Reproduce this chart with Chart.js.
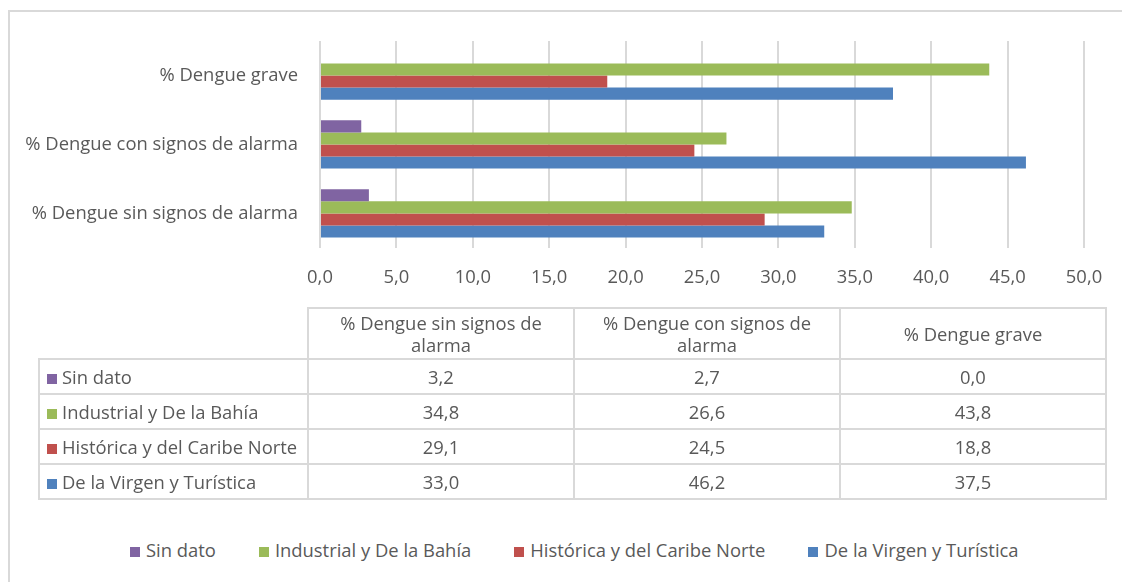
<!DOCTYPE html>
<html lang="es">
<head>
<meta charset="utf-8">
<script src="https://cdn.jsdelivr.net/npm/chart.js@4.4.1/dist/chart.umd.min.js"></script>
<style>
  html, body { margin: 0; padding: 0; background: #fff; }
  body { width: 1122px; height: 582px; position: relative; overflow: hidden;
         font-family: "Open Sans", sans-serif; color: #595959; }
  #frame { position: absolute; left: 8px; top: 10px; width: 1300px; height: 700px;
           border-left: 2px solid #d9d9d9; border-top: 2px solid #d9d9d9; }
  #wrap { position: absolute; left: 0; top: 0; width: 1122px; height: 308px; }
  #tabla { position: absolute; left: 38px; top: 307px; border-collapse: collapse;
           font-size: 18.4px; color: #595959; }
  #tabla td { border: 2px solid #d9d9d9; text-align: center; height: 33px; padding: 0; }
  #tabla tr.cab td { height: 49px; line-height: 22px; }
  #tabla tr.cab td.vacia { border: none; }
  #tabla td.serie { text-align: left; padding-left: 7px; width: 260px; white-space: nowrap; }
  #tabla td.num { width: 264px; }
  .cuadro { display: inline-block; width: 10px; height: 10px; margin-right: 5px; }
  #leyenda { position: absolute; left: 130px; top: 537px; display: flex; gap: 43px;
             font-size: 18.4px; line-height: 26px; white-space: nowrap; }
  #leyenda .cuadro { margin-right: 6px; }
</style>
</head>
<body>
<div id="frame"></div>
<div id="wrap"><canvas id="grafico"></canvas></div>
<table id="tabla"></table>
<div id="leyenda"></div>
<script>
// categorias (orden de la tabla)
const categorias = ['% Dengue sin signos de alarma', '% Dengue con signos de alarma', '% Dengue grave'];

// series
const sinDato    = [3.2, 2.7, 0.0];
const industrial = [34.8, 26.6, 43.8];
const historica  = [29.1, 24.5, 18.8];
const virgen     = [33.0, 46.2, 37.5];

const nombres = ['Sin dato', 'Industrial y De la Bahía', 'Histórica y del Caribe Norte', 'De la Virgen y Turística'];
const valores = [sinDato, industrial, historica, virgen];
const colores = ['#8064A2', '#9BBB59', '#C0504D', '#4F81BD'];

// eje x
const ejeMin = 0, ejeMax = 50, ejePaso = 5;

const coma = v => v.toFixed(1).replace('.', ',');

Chart.defaults.font.family = '"Open Sans", sans-serif';
Chart.defaults.font.size = 18.4;
Chart.defaults.color = '#595959';

new Chart(document.getElementById('grafico'), {
    type: 'bar',
    data: {
        labels: categorias,
        datasets: nombres.map((n, i) => ({
            label: n,
            data: valores[i],
            backgroundColor: colores[i],
            borderWidth: 0,
            barPercentage: 1,
            categoryPercentage: 0.7
        }))
    },
    options: {
        indexAxis: 'y',
        responsive: true,
        maintainAspectRatio: false,
        animation: false,
        layout: { padding: { left: 10, top: 41, right: 38, bottom: 0 } },
        plugins: {
            tooltip: { enabled: false },
            legend: { display: false }
        },
        scales: {
            x: {
                min: ejeMin, max: ejeMax,
                ticks: { stepSize: ejePaso, padding: 19, callback: v => coma(v) },
                grid: { color: '#d9d9d9', lineWidth: 2, drawTicks: false },
                border: { display: false }
            },
            y: {
                reverse: true,
                ticks: { padding: 22 },
                grid: { display: false, drawTicks: false },
                border: { display: false },
                afterFit: s => { s.width = 310; }
            }
        }
    }
});

// tabla de datos
const tabla = document.getElementById('tabla');
let html = '<tr class="cab"><td class="vacia"></td>';
categorias.forEach(c => {
    const k = c.length > 20 ? c.lastIndexOf(' ') : -1;
    html += '<td class="num">' + (k > 0 ? c.slice(0, k) + '<br>' + c.slice(k + 1) : c) + '</td>';
});
html += '</tr>';
nombres.forEach((n, i) => {
    html += '<tr><td class="serie"><span class="cuadro" style="background:' + colores[i] + '"></span>' + n + '</td>';
    valores[i].forEach(v => { html += '<td class="num">' + coma(v) + '</td>'; });
    html += '</tr>';
});
tabla.innerHTML = html;

// leyenda
document.getElementById('leyenda').innerHTML = nombres.map((n, i) =>
    '<span><span class="cuadro" style="background:' + colores[i] + '"></span>' + n + '</span>').join('');
</script>
</body>
</html>
